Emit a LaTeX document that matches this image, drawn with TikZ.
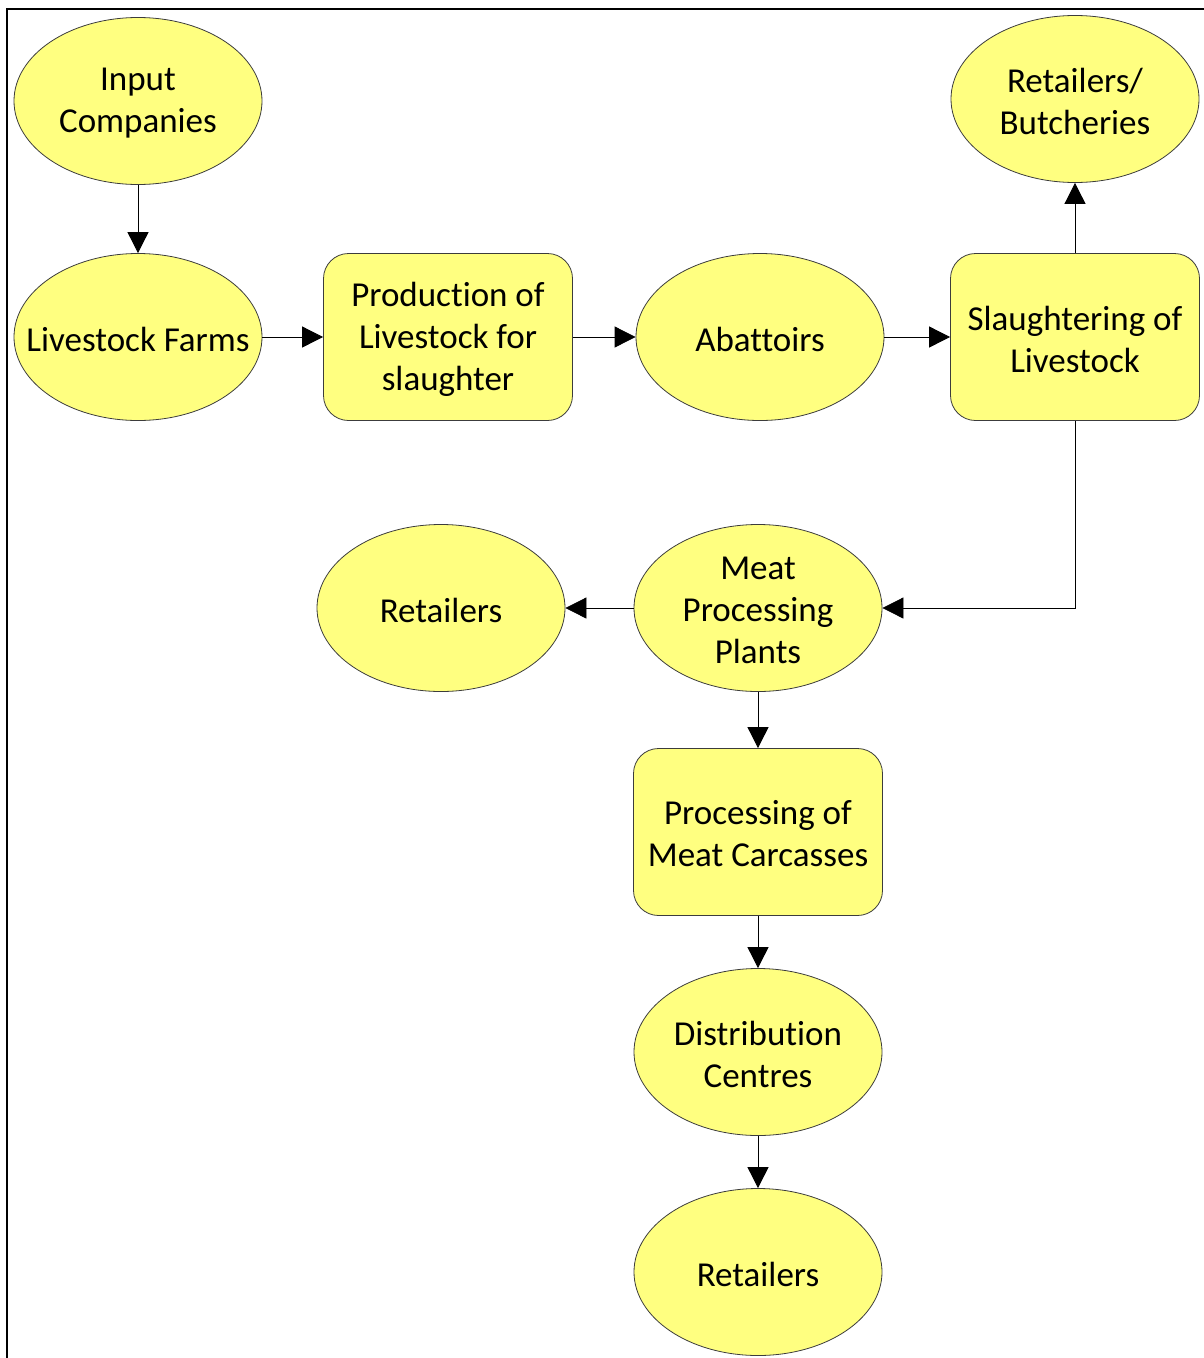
\documentclass[tikz,border=0pt]{standalone}
\usepackage{fontspec}
\setmainfont{Carlito}[Ligatures={NoCommon}]
\usetikzlibrary{shapes.geometric,arrows.meta}
\definecolor{fillyel}{RGB}{255,255,128}
\definecolor{edgegray}{RGB}{60,60,60}
\begin{document}
\begin{tikzpicture}[x=1pt,y=-1pt,
  txt/.style={inner sep=0pt,align=center,yshift=-2pt,font=\fontsize{35}{42}\selectfont},
  ell/.style={ellipse,draw=edgegray,line width=0.8pt,fill=fillyel,minimum width=248pt,minimum height=167pt,inner sep=0pt,label={[txt]center:#1}},
  rbox/.style={rectangle,rounded corners=25pt,draw=edgegray,line width=0.8pt,fill=fillyel,minimum width=249pt,minimum height=167pt,inner sep=0pt,label={[txt]center:#1}},
  conn/.style={line width=0.8pt,-{Triangle[length=21pt,width=21pt]}}]
\useasboundingbox (0,0) rectangle (1204,1358);
\draw[line width=2pt] (7,1358) -- (7,9) -- (1204,9);
\node[ell={Input\\Companies}] (ic) at (138,101) {};
\node[ell={Livestock Farms}] (lf) at (138,337) {};
\node[rbox={Production of\\Livestock for\\slaughter}] (pl) at (448,337) {};
\node[ell={Abattoirs}] (ab) at (760,337) {};
\node[rbox={Slaughtering of\\Livestock}] (sl) at (1075,337) {};
\node[ell={Retailers/\\Butcheries}] (rb) at (1075,99) {};
\node[ell={Meat\\Processing\\Plants}] (mp) at (758,608) {};
\node[ell={Retailers}] (r1) at (441,608) {};
\node[rbox={Processing of\\Meat Carcasses}] (pc) at (758,832) {};
\node[ell={Distribution\\Centres}] (dc) at (758,1052) {};
\node[ell={Retailers}] (r2) at (758,1272) {};
\draw[conn] (ic) -- (lf);
\draw[conn] (lf) -- (pl);
\draw[conn] (pl) -- (ab);
\draw[conn] (ab) -- (sl);
\draw[conn] (sl) -- (rb);
\draw[conn] (sl.south) |- (mp.east);
\draw[conn] (mp) -- (r1);
\draw[conn] (mp) -- (pc);
\draw[conn] (pc) -- (dc);
\draw[conn] (dc) -- (r2);
\end{tikzpicture}
\end{document}
